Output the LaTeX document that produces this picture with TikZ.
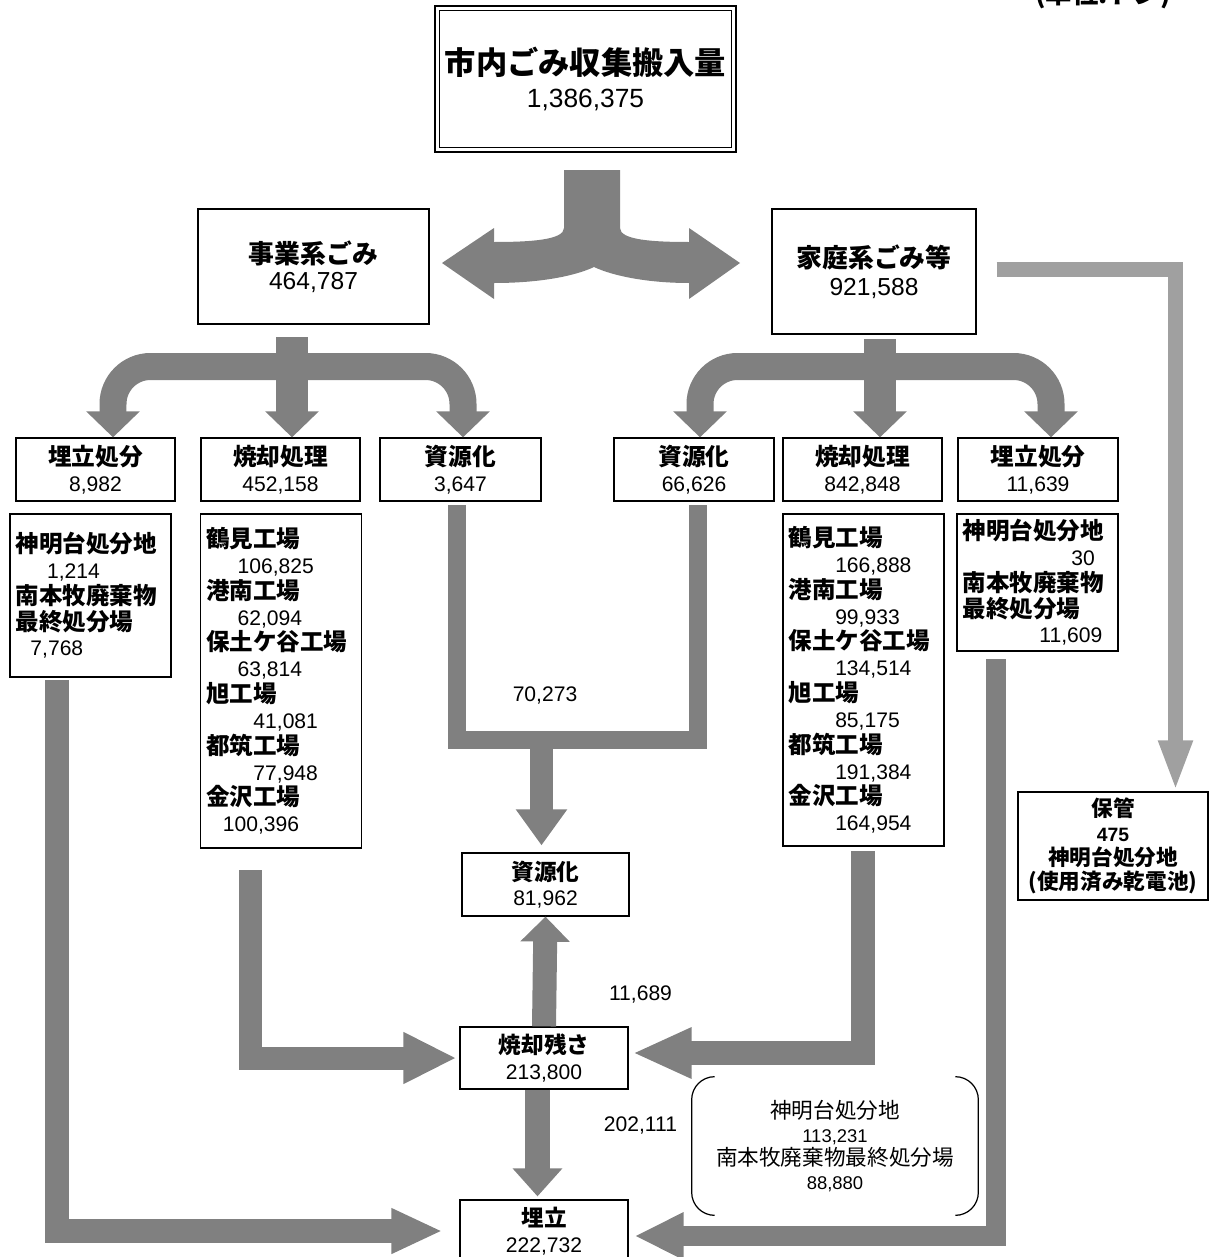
\documentclass[tikz,border=0pt]{standalone}
\usepackage{fontspec}
\setmainfont{Liberation Sans}
\newfontfamily\jp{Noto Sans CJK JP}
\usetikzlibrary{arrows.meta}
\definecolor{flowgray}{HTML}{808080}
\definecolor{batterygray}{HTML}{A0A0A0}
\newcommand{\J}[2][13.5]{{\jp\bfseries\fontsize{#1}{#1}\selectfont #2}}
\newcommand{\Jr}[2][12.3]{{\jp\fontsize{#1}{#1}\selectfont #2}}

\begin{document}
\begin{tikzpicture}[x=0.02cm, y=-0.02cm,
    box/.style={draw, line width=0.7pt, inner sep=0pt, align=center},
    hdr/.style={box, minimum height=1.26cm, font=\fontsize{12}{14.7}\selectfont},
    listbox/.style={draw, line width=0.7pt, inner xsep=3pt, inner ysep=0pt, align=left, text width=3cm, minimum width=3.22cm, font=\fontsize{12}{14.7}\selectfont},
    flow/.style={draw=flowgray, line width=#1},
    flowtip/.style 2 args={-{Triangle[length=#1, width=#2]}}]
  \useasboundingbox (0,0) rectangle (1209,1257);
  % Unit (cut off at the top edge)
  \node[anchor=base] (unit) at (1103,4) {\J[15]{(単位:トン)}};
  % Total
  \node[box, double, double distance=0.06cm, minimum width=5.94cm, minimum height=2.84cm, font=\fontsize{15}{19.3}\selectfont] (title) at (585.5,79) {\J[17.8]{市内ごみ収集搬入量}\\1,386,375};
  \node[box, minimum width=4.62cm, minimum height=2.3cm, font=\fontsize{14}{15}\selectfont] (jigyo) at (313.5,266.5) {\J[14.7]{事業系ごみ}\\464,787};
  \node[box, minimum width=4.08cm, minimum height=2.5cm, font=\fontsize{14}{16}\selectfont] (katei) at (874,271.5) {\J[14.7]{家庭系ごみ等}\\921,588};
  % Split arrow
  \fill[flowgray] (564,170) -- (564,228) .. controls (564,240) and (530,242) .. (494,242) -- (494,228) -- (442,263) -- (494,299) -- (494,283)
    .. controls (540,283) and (575,276) .. (594,267) .. controls (613,276) and (648,283) .. (689,283) -- (689,299) -- (740,263) -- (689,228) -- (689,242)
    .. controls (653,242) and (620,240) .. (620,228) -- (620,170) -- cycle;
  % Treatment boxes
  \foreach \nm/\x/\w/\lab/\num in {jUme/95.5/3.18/埋立処分/{8,982}, jSho/280.5/3.18/焼却処理/{452,158}, jShi/460.5/3.22/資源化/{3,647},
      kShi/694/3.2/資源化/{66,626}, kSho/862.5/3.18/焼却処理/{842,848}, kUme/1038/3.2/埋立処分/{11,639}} {
    \node[hdr, minimum width=\w cm] (\nm) at (\x,469.5) {\J{\lab}\\\num};
  }
  % Breakdown
  \node[listbox, minimum height=3.26cm] (jUmeList) at (90.5,595.5) {\J[13.4]{神明台処分地}\\\hspace*{18pt}1,214\\\J[13.4]{南本牧廃棄物}\\\J[13.4]{最終処分場}\\\hspace*{8.5pt}7,768};
  \node[listbox, minimum height=6.68cm] (jShoList) at (281,681) {\J[13.4]{鶴見工場}\\\hspace*{18pt}106,825\\\J[13.4]{港南工場}\\\hspace*{18pt}62,094\\\J[13.4]{保土ケ谷工場}\\\hspace*{18pt}63,814\\
    \J[13.4]{旭工場}\\\hspace*{27pt}41,081\\\J[13.4]{都筑工場}\\\hspace*{27pt}77,948\\\J[13.4]{金沢工場}\\\hspace*{9.6pt}100,396};
  \node[listbox, minimum height=6.64cm] (kShoList) at (863.5,680) {\J[13.4]{鶴見工場}\\\hspace*{26.6pt}166,888\\\J[13.4]{港南工場}\\\hspace*{26.6pt}99,933\\\J[13.4]{保土ケ谷工場}\\\hspace*{26.6pt}134,514\\
    \J[13.4]{旭工場}\\\hspace*{26.6pt}85,175\\\J[13.4]{都筑工場}\\\hspace*{26.6pt}191,384\\\J[13.4]{金沢工場}\\\hspace*{26.6pt}164,954};
  \node[listbox, minimum height=2.74cm] (kUmeList) at (1037.5,582.5) {\J[13.4]{神明台処分地}\\\hspace*{62pt}30\\\J[13.4]{南本牧廃棄物}\\\J[13.4]{最終処分場}\\\hspace*{43.8pt}11,609};
  \node[box, minimum width=3.8cm, minimum height=2.16cm, font=\bfseries\fontsize{11}{13.8}\selectfont] (hokan) at (1113,846) {\J[12.3]{保管}\\475\\\J[12.3]{神明台処分地}\\\J[12.3]{(使用済み乾電池)}};
  % Middle column
  \node[box, minimum width=3.34cm, minimum height=1.26cm, font=\fontsize{12}{14.5}\selectfont] (shigen) at (545.5,884.5) {\J[12.9]{資源化}\\81,962};
  \node[box, minimum width=3.36cm, minimum height=1.24cm, font=\fontsize{12}{14.5}\selectfont] (zansa) at (544,1058) {\J[12.9]{焼却残さ}\\213,800};
  \node[box, minimum width=3.36cm, minimum height=1.24cm, font=\fontsize{12}{14.5}\selectfont] (umetate) at (544,1231) {\J[12.9]{埋立}\\222,732};
  \node[align=center, inner sep=0pt, minimum width=5.72cm, minimum height=2.76cm, font=\fontsize{10.5}{13.4}\selectfont] (note) at (835,1146) {\Jr{神明台処分地}\\113,231\\\Jr{南本牧廃棄物最終処分場}\\88,880};
  \draw[line width=0.7pt, rounded corners=0.46cm] ([xshift=0.46cm]note.north west) -- (note.north west) -- (note.south west) -- ([xshift=0.46cm]note.south west);
  \draw[line width=0.7pt, rounded corners=0.46cm] ([xshift=-0.46cm]note.north east) -- (note.north east) -- (note.south east) -- ([xshift=-0.46cm]note.south east);
  % Amounts
  \node[font=\fontsize{12}{12}\selectfont] (lRecycle) at (545,695) {70,273};
  \node[font=\fontsize{12}{12}\selectfont] (lUp) at (640.5,994) {11,689};
  \node[font=\fontsize{12}{12}\selectfont] (lDown) at (640.5,1125) {202,111};
  % Branches
  \coordinate (jL) at (113,366.5);
  \coordinate (jR) at (463,366.5);
  \coordinate (jFork) at (292,337);
  \draw[flow=0.54cm, {Triangle[length=0.52cm,width=1.04cm]}-{Triangle[length=0.52cm,width=1.04cm]}, rounded corners=0.75cm] (jUme.north -| jL) -- (jL) -- (jR) -- (jShi.north -| jR);
  \draw[flow=0.64cm, flowtip={0.52cm}{1.04cm}] (jFork) -- (jSho.north -| jFork);
  \coordinate (kL) at (700,366.5);
  \coordinate (kR) at (1051,366.5);
  \coordinate (kFork) at (880,339);
  \draw[flow=0.54cm, {Triangle[length=0.52cm,width=1.04cm]}-{Triangle[length=0.52cm,width=1.04cm]}, rounded corners=0.75cm] (kShi.north -| kL) -- (kL) -- (kR) -- (kUme.north -| kR);
  \draw[flow=0.64cm, flowtip={0.52cm}{1.04cm}] (kFork) -- (kSho.north -| kFork);
  % Batteries
  \coordinate (hk) at (1175.5,269.5);
  \draw[draw=batterygray, line width=0.3cm, flowtip={1.02cm}{0.62cm}] ([xshift=0.4cm]katei.east |- hk) -- (hk) -- (hokan.north -| hk);
  % To landfill / residue
  \coordinate (lA) at (57,680);
  \draw[flow=0.48cm, flowtip={1.02cm}{0.84cm}, shorten >=0.34cm] (lA) |- (umetate.west);
  \coordinate (lB) at (250.5,870);
  \draw[flow=0.46cm, flowtip={1.06cm}{0.96cm}, shorten >=0.06cm] (lB) |- (zansa.west);
  \coordinate (rB) at (862.5,851);
  \draw[flow=0.48cm, flowtip={1.18cm}{0.94cm}, shorten >=0.08cm] (rB) |- ([yshift=0.1cm]zansa.east);
  \coordinate (rA) at (995.5,659);
  \draw[flow=0.4cm, flowtip={0.98cm}{0.88cm}, shorten >=0.12cm] (rA) |- ([yshift=-0.1cm]umetate.east);
  % Recycling
  \coordinate (uL) at (456.5,505);
  \coordinate (uR) at (698,505);
  \coordinate (uM) at (541.5,740);
  \draw[flow=0.36cm] (uL) |- (uM) -| (uR);
  \draw[flow=0.46cm, flowtip={0.72cm}{0.98cm}, shorten >=0.14cm] (uM) -- (shigen.north -| uM);
  \draw[flow=0.48cm, flowtip={0.5cm}{0.96cm}] (zansa.north) -- (shigen.south);
  \draw[flow=0.5cm, flowtip={0.56cm}{0.96cm}, shorten >=0.06cm] ([xshift=-0.13cm]zansa.south) -- ([xshift=-0.13cm]umetate.north);
\end{tikzpicture}
\end{document}
